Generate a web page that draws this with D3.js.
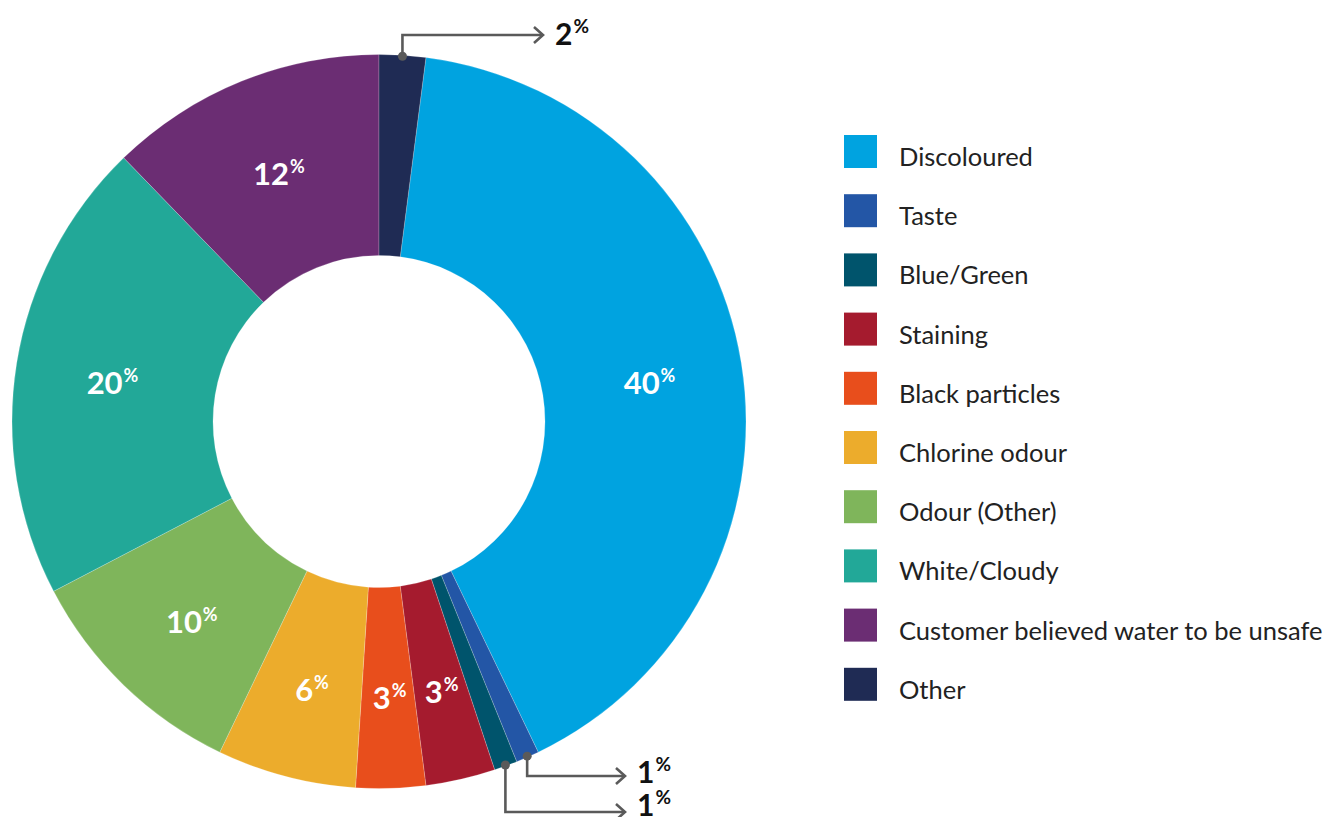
<!DOCTYPE html>
<html>
<head>
<meta charset="utf-8">
<script src="https://cdn.jsdelivr.net/npm/d3@7"></script>
<style>
  html, body { margin: 0; padding: 0; background: #fff; }
  svg { display: block; }
</style>
</head>
<body>
<svg id="chart" width="1333" height="817"></svg>
<script>
// Complaint categories, share of contacts (%) and slice colours
const categories = [
  "Discoloured", "Taste", "Blue/Green", "Staining", "Black particles",
  "Chlorine odour", "Odour (Other)", "White/Cloudy",
  "Customer believed water to be unsafe", "Other"
];
const values = [40, 1, 1, 3, 3, 6, 10, 20, 12, 2];
const colors = [
  "#00a3e0", "#2356a6", "#00546c", "#a51b2e", "#e84e1c",
  "#ecac2c", "#7fb55b", "#22a898", "#6b2d73", "#1f2b54"
];
// Slices too thin for an inside label get an outside callout instead
const calloutCategories = ["Other", "Taste", "Blue/Green"];

const svg = d3.select("#chart");
const fontFamily = "Lato, 'Open Sans', sans-serif";

const cx = 379, cy = 421.5;
const outerR = 367, innerR = 166, labelR = 272;

const data = categories.map((c, i) => ({ category: c, value: values[i], color: colors[i] }));
const total = d3.sum(values);
const lastShare = values[values.length - 1] / total;

// Start the first category just after the last one, so "Other" sits at 12 o'clock
const startA = 2 * Math.PI * lastShare;
const pie = d3.pie().sort(null).value(d => d.value)
  .startAngle(startA).endAngle(startA + 2 * Math.PI);
const arcs = pie(data);

const arc = d3.arc().innerRadius(innerR).outerRadius(outerR);
const labelArc = d3.arc().innerRadius(labelR).outerRadius(labelR);

const g = svg.append("g").attr("transform", `translate(${cx},${cy})`);

g.selectAll("path.slice")
  .data(arcs)
  .join("path")
  .attr("class", "slice")
  .attr("d", arc)
  .attr("fill", d => d.data.color)
  .attr("stroke", "rgba(255,255,255,0.35)")
  .attr("stroke-width", 0.6);

// Inside percentage labels
const inside = arcs.filter(d => !calloutCategories.includes(d.data.category));
const lbl = g.selectAll("text.pct")
  .data(inside)
  .join("text")
  .attr("class", "pct")
  .attr("transform", d => {
    const [x, y] = labelArc.centroid(d);
    return `translate(${x + 2},${y + 16})`;
  })
  .attr("text-anchor", "middle")
  .attr("fill", "#fff")
  .attr("font-family", fontFamily)
  .attr("font-weight", 700);
lbl.append("tspan").attr("font-size", 31).text(d => d.data.value);
lbl.append("tspan").attr("font-size", 18).attr("dy", -12).attr("dx", 1).text("%");

// Outside callouts: elbow leader from the slice edge to an arrow and the value
const calloutLayout = {
  "Other":      { yLevel: 35 - cy,  xEnd: 543 - cx, textY: 45 - cy },
  "Taste":      { yLevel: 776 - cy, xEnd: 625 - cx, textY: 783 - cy },
  "Blue/Green": { yLevel: 812 - cy, xEnd: 625 - cx, textY: 816 - cy }
};
const lineColor = "#5a5a5a";
const callouts = arcs.filter(d => calloutCategories.includes(d.data.category));
callouts.forEach(d => {
  const lay = calloutLayout[d.data.category];
  const mid = (d.startAngle + d.endAngle) / 2;
  const x0 = Math.sin(mid) * (outerR - 1);
  const y0 = -Math.cos(mid) * (outerR - 1);
  const path = d3.path();
  path.moveTo(x0, y0);
  path.lineTo(x0, lay.yLevel);
  path.lineTo(lay.xEnd, lay.yLevel);
  g.append("path")
    .attr("d", path.toString())
    .attr("fill", "none")
    .attr("stroke", lineColor)
    .attr("stroke-width", 2.6);
  // open chevron arrow head
  const ah = d3.path();
  ah.moveTo(lay.xEnd - 9, lay.yLevel - 8);
  ah.lineTo(lay.xEnd, lay.yLevel);
  ah.lineTo(lay.xEnd - 9, lay.yLevel + 8);
  g.append("path")
    .attr("d", ah.toString())
    .attr("fill", "none")
    .attr("stroke", lineColor)
    .attr("stroke-width", 2.6);
  g.append("circle")
    .attr("cx", x0).attr("cy", y0).attr("r", 4.5)
    .attr("fill", lineColor);
  const t = g.append("text")
    .attr("x", lay.xEnd + 12)
    .attr("y", lay.textY)
    .attr("fill", "#111")
    .attr("font-family", fontFamily)
    .attr("font-weight", 700);
  t.append("tspan").attr("font-size", 30).text(d.data.value);
  t.append("tspan").attr("font-size", 19).attr("dy", -12).attr("dx", 1).text("%");
});

// Legend
const legend = svg.append("g").attr("transform", "translate(844,135)");
const step = 59.2;
const items = legend.selectAll("g.item")
  .data(data)
  .join("g")
  .attr("class", "item")
  .attr("transform", (d, i) => `translate(0,${i * step})`);
items.append("rect")
  .attr("width", 33).attr("height", 33)
  .attr("fill", d => d.color);
items.append("text")
  .attr("x", 55).attr("y", 31)
  .attr("fill", "#222")
  .attr("font-family", fontFamily)
  .attr("font-size", 25.5)
  .text(d => d.category);
</script>
</body>
</html>
